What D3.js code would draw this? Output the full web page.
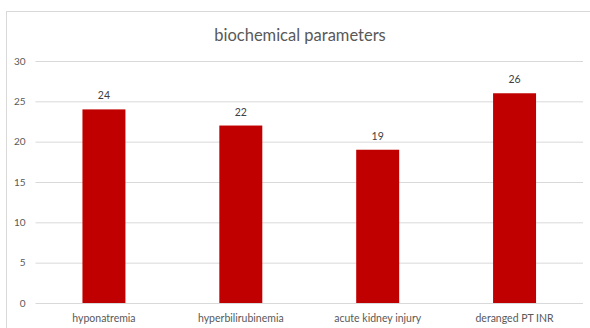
<!DOCTYPE html>
<html>
<head>
<meta charset="utf-8">
<script src="https://cdn.jsdelivr.net/npm/d3@7"></script>
<style>
  html, body { margin: 0; padding: 0; background: #fff; }
  svg { display: block; font-family: Lato, "Open Sans", sans-serif; }
</style>
</head>
<body>
<script>
// Chart data
const categories = ["hyponatremia", "hyperbilirubinemia", "acute kidney injury", "deranged PT INR"];
const values = [24, 22, 19, 26];
const yTicks = [0, 5, 10, 15, 20, 25, 30];
const title = "biochemical parameters";

const W = 590, H = 328;
const svg = d3.select("body").append("svg").attr("width", W).attr("height", H);

// Chart frame (open on the right and bottom edges of the window)
svg.append("rect")
  .attr("x", 6.5).attr("y", 11.5)
  .attr("width", W).attr("height", H)
  .attr("fill", "#fff").attr("stroke", "#d9d9d9").attr("stroke-width", 1);

svg.append("text")
  .attr("x", 300).attr("y", 41)
  .attr("text-anchor", "middle")
  .attr("font-size", 16.5)
  .attr("fill", "#595959")
  .text(title);

const plot = { left: 35.5, right: 583, top: 61, bottom: 303 };

const x = d3.scaleBand()
  .domain(categories)
  .range([plot.left, plot.right])
  .paddingInner(0.686)
  .paddingOuter(0.343);

const y = d3.scaleLinear()
  .domain([0, 30])
  .range([plot.bottom, plot.top]);

// Horizontal gridlines with value labels
const yAxis = d3.axisLeft(y)
  .tickValues(yTicks)
  .tickSize(-(plot.right - plot.left))
  .tickPadding(10);

const gy = svg.append("g")
  .attr("transform", `translate(${plot.left},0)`)
  .call(yAxis);
gy.select(".domain").remove();
gy.selectAll(".tick line").attr("stroke", "#d9d9d9").attr("stroke-width", 1);
gy.selectAll(".tick text")
  .attr("fill", "#595959")
  .attr("font-size", 10)
  .attr("font-family", "Lato, sans-serif");

// Bars
svg.append("g").selectAll("rect")
  .data(categories)
  .join("rect")
  .attr("x", d => x(d))
  .attr("y", (d, i) => y(values[i]))
  .attr("width", x.bandwidth())
  .attr("height", (d, i) => y(0) - y(values[i]))
  .attr("fill", "#c00000");

// Value labels above bars
svg.append("g").selectAll("text")
  .data(categories)
  .join("text")
  .attr("x", d => x(d) + x.bandwidth() / 2)
  .attr("y", (d, i) => y(values[i]) - 10)
  .attr("text-anchor", "middle")
  .attr("font-size", 10.5)
  .attr("fill", "#404040")
  .text((d, i) => values[i]);

// Category axis labels
const xAxis = d3.axisBottom(x).tickSize(0).tickPadding(12);
const gx = svg.append("g")
  .attr("transform", `translate(0,${plot.bottom})`)
  .call(xAxis);
gx.select(".domain").remove();
gx.selectAll(".tick text")
  .attr("fill", "#595959")
  .attr("font-size", 10.5)
  .attr("font-family", "Lato, sans-serif");
</script>
</body>
</html>
